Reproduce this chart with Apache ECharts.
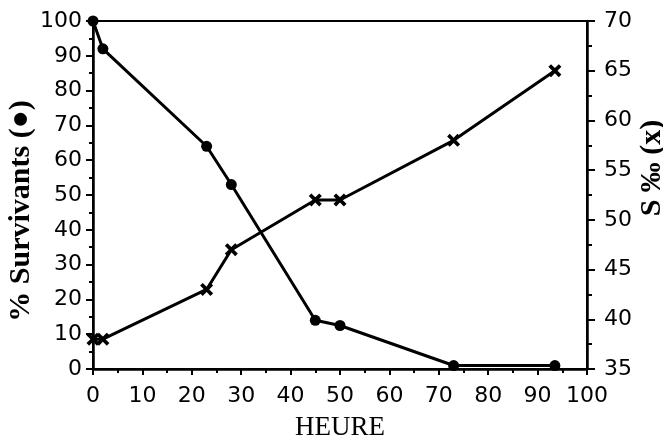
<!DOCTYPE html>
<html><head><meta charset="utf-8">
<script src="https://cdn.jsdelivr.net/npm/echarts@6/dist/echarts.min.js"></script>
<style>html,body{margin:0;padding:0;background:#fff}#c{width:663px;height:439px}</style>
</head><body><div id="c"></div>
<script>
var hoursSurv = [0, 2, 23, 28, 45, 50, 73, 93.5];
var survivants = [100, 92, 64, 53, 14, 12.5, 1, 1];
var hoursSal = [0, 2, 23, 28, 45, 50, 73, 93.5];
var salinite = [38, 38, 43, 47, 52, 52, 58, 65];

var chart = echarts.init(document.getElementById('c'));
var tickFont = {fontFamily: 'DejaVu Sans', fontSize: 22, color: '#000'};
var crossPath = 'path://M0,2 L2,0 L5,3 L8,0 L10,2 L7,5 L10,8 L8,10 L5,7 L2,10 L0,8 L3,5 Z';
function tick(len) { return {show: true, inside: false, length: len, lineStyle: {color: '#000', width: 2}}; }
chart.setOption({
  animation: false,
  backgroundColor: '#fff',
  grid: {left: 93, right: 76, top: 21, bottom: 70, show: true, borderColor: '#000', borderWidth: 2,
         containLabel: false, outerBoundsMode: 'none'},
  xAxis: {
    type: 'value', min: 0, max: 100, interval: 10,
    name: 'HEURE', nameLocation: 'middle', nameGap: 45, nameMoveOverlap: false,
    nameTextStyle: {fontFamily: 'Liberation Serif', fontSize: 27, color: '#000'},
    axisLine: {lineStyle: {color: '#000', width: 2.5}},
    axisTick: tick(6),
    minorTick: Object.assign({splitNumber: 2}, tick(4)),
    axisLabel: Object.assign({margin: 16}, tickFont),
    splitLine: {show: false}
  },
  yAxis: [{
    type: 'value', min: 0, max: 100, interval: 10, position: 'left',
    name: '% Survivants (●)', nameLocation: 'middle', nameGap: 57, nameRotate: 90, nameMoveOverlap: false,
    nameTextStyle: {fontFamily: 'Liberation Serif', fontWeight: 'bold', fontSize: 30, color: '#000', padding: [0, 32, 0, 0]},
    axisLine: {show: true, lineStyle: {color: '#000', width: 2.5}},
    axisTick: tick(7),
    minorTick: Object.assign({splitNumber: 2}, tick(4)),
    axisLabel: Object.assign({margin: 11}, tickFont),
    splitLine: {show: false}
  }, {
    type: 'value', min: 35, max: 70, interval: 5, position: 'right',
    name: 'S ‰ (x)', nameLocation: 'middle', nameGap: 50, nameRotate: 90, nameMoveOverlap: false,
    nameTextStyle: {fontFamily: 'Liberation Serif', fontWeight: 'bold', fontSize: 30, color: '#000', padding: [0, 0, 0, 54]},
    axisLine: {show: true, lineStyle: {color: '#000', width: 2.5}},
    axisTick: tick(8),
    minorTick: Object.assign({splitNumber: 2}, tick(5)),
    axisLabel: Object.assign({margin: 17}, tickFont),
    splitLine: {show: false}
  }],
  series: [{
    type: 'line', yAxisIndex: 0,
    data: hoursSurv.map(function (h, i) { return [h, survivants[i]]; }),
    symbol: 'circle', symbolSize: 11,
    itemStyle: {color: '#000'},
    lineStyle: {color: '#000', width: 3}
  }, {
    type: 'line', yAxisIndex: 1,
    data: hoursSal.map(function (h, i) { return [h, salinite[i]]; }),
    symbol: crossPath, symbolSize: 13,
    itemStyle: {color: '#000'},
    lineStyle: {color: '#000', width: 3}
  }]
});
</script></body></html>
